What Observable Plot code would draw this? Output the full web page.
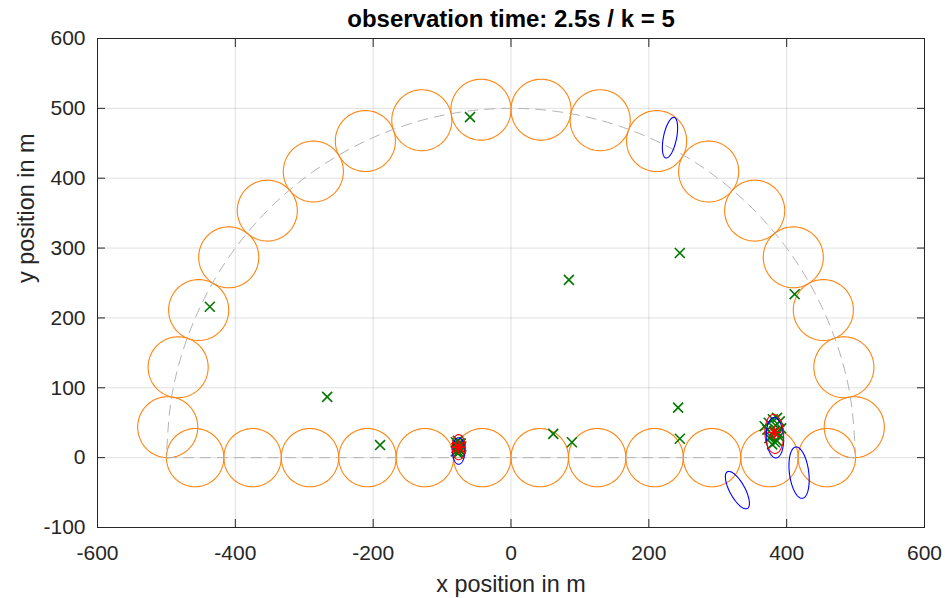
<!DOCTYPE html>
<html><head><meta charset="utf-8">
<script src="https://cdn.jsdelivr.net/npm/d3@7"></script>
<script src="https://cdn.jsdelivr.net/npm/@observablehq/plot@0.6"></script>
<style>
body{margin:0;background:#fff}
svg{font-family:"Liberation Sans",Arial,Helvetica,sans-serif}
</style>
</head><body><div id="chart"></div>
<script>
// ---------- data ----------
const titleText = "observation time: 2.5s / k = 5";
const xLabel = "x position in m";
const yLabel = "y position in m";
const xTicks = [-600, -400, -200, 0, 200, 400, 600];
const yTicks = [-100, 0, 100, 200, 300, 400, 500, 600];

// sensor ranges on the straight segment
const lineCircleX = [-458.3, -375, -291.7, -208.3, -125, -41.7, 41.7, 125, 208.3, 291.7, 375, 458.3];
const lineCircleY = [0, 0, 0, 0, 0, 0, 0, 0, 0, 0, 0, 0];
const lineCircleR = 41.7;
// sensor ranges on the arc
const arcCircleX = [498.1, 483.0, 453.2, 409.6, 353.6, 286.8, 211.3, 129.4, 43.6, -43.6, -129.4, -211.3, -286.8, -353.6, -409.6, -453.2, -483.0, -498.1];
const arcCircleY = [43.6, 129.4, 211.3, 286.8, 353.6, 409.6, 453.2, 483.0, 498.1, 498.1, 483.0, 453.2, 409.6, 353.6, 286.8, 211.3, 129.4, 43.6];
const arcCircleR = 43.6;

// reference trajectory waypoints (dashed)
const arcPathX = [500, 492.4, 469.8, 433.0, 383.0, 321.4, 250.0, 171.0, 86.8, 0, -86.8, -171.0, -250.0, -321.4, -383.0, -433.0, -469.8, -492.4, -500];
const arcPathY = [0, 86.8, 171.0, 250.0, 321.4, 383.0, 433.0, 469.8, 492.4, 500, 492.4, 469.8, 433.0, 383.0, 321.4, 250.0, 171.0, 86.8, 0];
const linePathX = [-500, 500];
const linePathY = [0, 0];

// measurements (green x)
const measX = [-59.5, -437, -266.7, -190, 84, 245, 411.6, 242.5, 245, 61.3, 88.4,
  -80, -73, -77, -75, -79, -72, -76, -78, -74, -77, -75, -80, -73,
  368, 372, 386, 390, 377, 383, 380, 388, 375, 384, 392, 379, 386, 374, 382, 389];
const measY = [487.5, 216, 87, 18, 254.5, 293, 234, 71.6, 27, 34, 22,
  22, 20, 24, 12, 14, 16, 8, 18, 10, 6, 21, 9, 13,
  45, 40, 57, 52, 30, 22, 55, 35, 28, 46, 42, 19, 24, 50, 38, 30];

// blue ellipses (centre, semi-major, semi-minor, tilt from vertical in deg)
const blueEllX = [230.7, 328.5, 418, -76, 383];
const blueEllY = [458, -46.5, -21.5, 9.5, 28.5];
const blueEllA = [29.6, 30, 37, 19, 29];
const blueEllB = [9.5, 11, 14, 9, 12.5];
const blueEllTilt = [11.7, -29, -7.5, 0, -3];

// red ellipses
const redEllX = [-76, 382];
const redEllY = [15, 34];
const redEllA = [18, 28];
const redEllB = [9.5, 13.5];
const redEllTilt = [0, -3];

// red estimates (*)
const estX = [-76, 382];
const estY = [15, 36];

// ---------- geometry helpers ----------
function outline(cx, cy, a, b, tiltDeg, id) {
  const phi = tiltDeg * Math.PI / 180, pts = [];
  for (let i = 0; i <= 120; i++) {
    const t = i / 120 * 2 * Math.PI;
    const u = a * Math.cos(t), v = b * Math.sin(t);
    pts.push({id, x: cx + u * Math.sin(phi) + v * Math.cos(phi), y: cy + u * Math.cos(phi) - v * Math.sin(phi)});
  }
  return pts;
}
const circles = [
  ...lineCircleX.flatMap((x, i) => outline(x, lineCircleY[i], lineCircleR, lineCircleR, 0, "l" + i)),
  ...arcCircleX.flatMap((x, i) => outline(x, arcCircleY[i], arcCircleR, arcCircleR, 0, "a" + i))
];
const blueEll = blueEllX.flatMap((x, i) => outline(x, blueEllY[i], blueEllA[i], blueEllB[i], blueEllTilt[i], "b" + i));
const redEll = redEllX.flatMap((x, i) => outline(x, redEllY[i], redEllA[i], redEllB[i], redEllTilt[i], "r" + i));
const arcPath = arcPathX.map((x, i) => ({x, y: arcPathY[i]}));
const linePath = linePathX.map((x, i) => ({x, y: linePathY[i]}));
const meas = measX.map((x, i) => ({x, y: measY[i]}));
const est = estX.map((x, i) => ({x, y: estY[i]}));

const axisCol = "#262626";
const fmt = d => String(d);

const chart = Plot.plot({
  width: 945, height: 598,
  marginLeft: 97, marginRight: 21, marginTop: 38, marginBottom: 71,
  x: {domain: [-600, 600]},
  y: {domain: [-100, 600]},
  style: {background: "#fff", fontFamily: '"Liberation Sans",Arial,sans-serif'},
  marks: [
    Plot.gridX(xTicks, {stroke: "#000", strokeOpacity: 0.12}),
    Plot.gridY(yTicks, {stroke: "#000", strokeOpacity: 0.12}),
    Plot.line(circles, {x: "x", y: "y", z: "id", stroke: "#ff8410", strokeWidth: 1.1}),
    Plot.line(arcPath, {x: "x", y: "y", stroke: "#b3b3b3", strokeWidth: 1, strokeDasharray: "10,7", curve: "natural"}),
    Plot.line(linePath, {x: "x", y: "y", stroke: "#b3b3b3", strokeWidth: 1, strokeDasharray: "10,7"}),
    Plot.dot(meas, {x: "x", y: "y", symbol: "times", r: 4.6, stroke: "#007800", strokeWidth: 1.6}),
    Plot.line(blueEll, {x: "x", y: "y", z: "id", stroke: "#0000ff", strokeWidth: 1.1}),
    Plot.line(redEll, {x: "x", y: "y", z: "id", stroke: "#ff0000", strokeWidth: 1.1}),
    Plot.dot(est, {x: "x", y: "y", symbol: "plus", r: 4.4, stroke: "#ff0000", strokeWidth: 1.6}),
    Plot.dot(est, {x: "x", y: "y", symbol: "times", r: 4.4, stroke: "#ff0000", strokeWidth: 1.6}),
    Plot.frame({stroke: axisCol, strokeWidth: 1}),
    Plot.axisX(xTicks, {anchor: "bottom", tickSize: -8, tickPadding: 26, fontSize: 21, color: axisCol, label: null, tickFormat: fmt}),
    Plot.axisX(xTicks, {anchor: "top", tickSize: -8, color: axisCol, label: null, tickFormat: () => ""}),
    Plot.axisY(yTicks, {anchor: "left", tickSize: -8, tickPadding: 20, fontSize: 21, color: axisCol, label: null, tickFormat: fmt}),
    Plot.axisY(yTicks, {anchor: "right", tickSize: -8, color: axisCol, label: null, tickFormat: () => ""}),
    Plot.text([titleText], {text: d => d, frameAnchor: "top", lineAnchor: "middle", dy: -19, fontSize: 24, fontWeight: "bold", fill: "#000"}),
    Plot.text([xLabel], {text: d => d, frameAnchor: "bottom", lineAnchor: "middle", dy: 57, fontSize: 23.4, fill: axisCol}),
    Plot.text([yLabel], {text: d => d, frameAnchor: "left", lineAnchor: "middle", dx: -71.5, rotate: -90, fontSize: 23.4, fill: axisCol})
  ]
});
document.getElementById("chart").appendChild(chart);
</script>
</body></html>
